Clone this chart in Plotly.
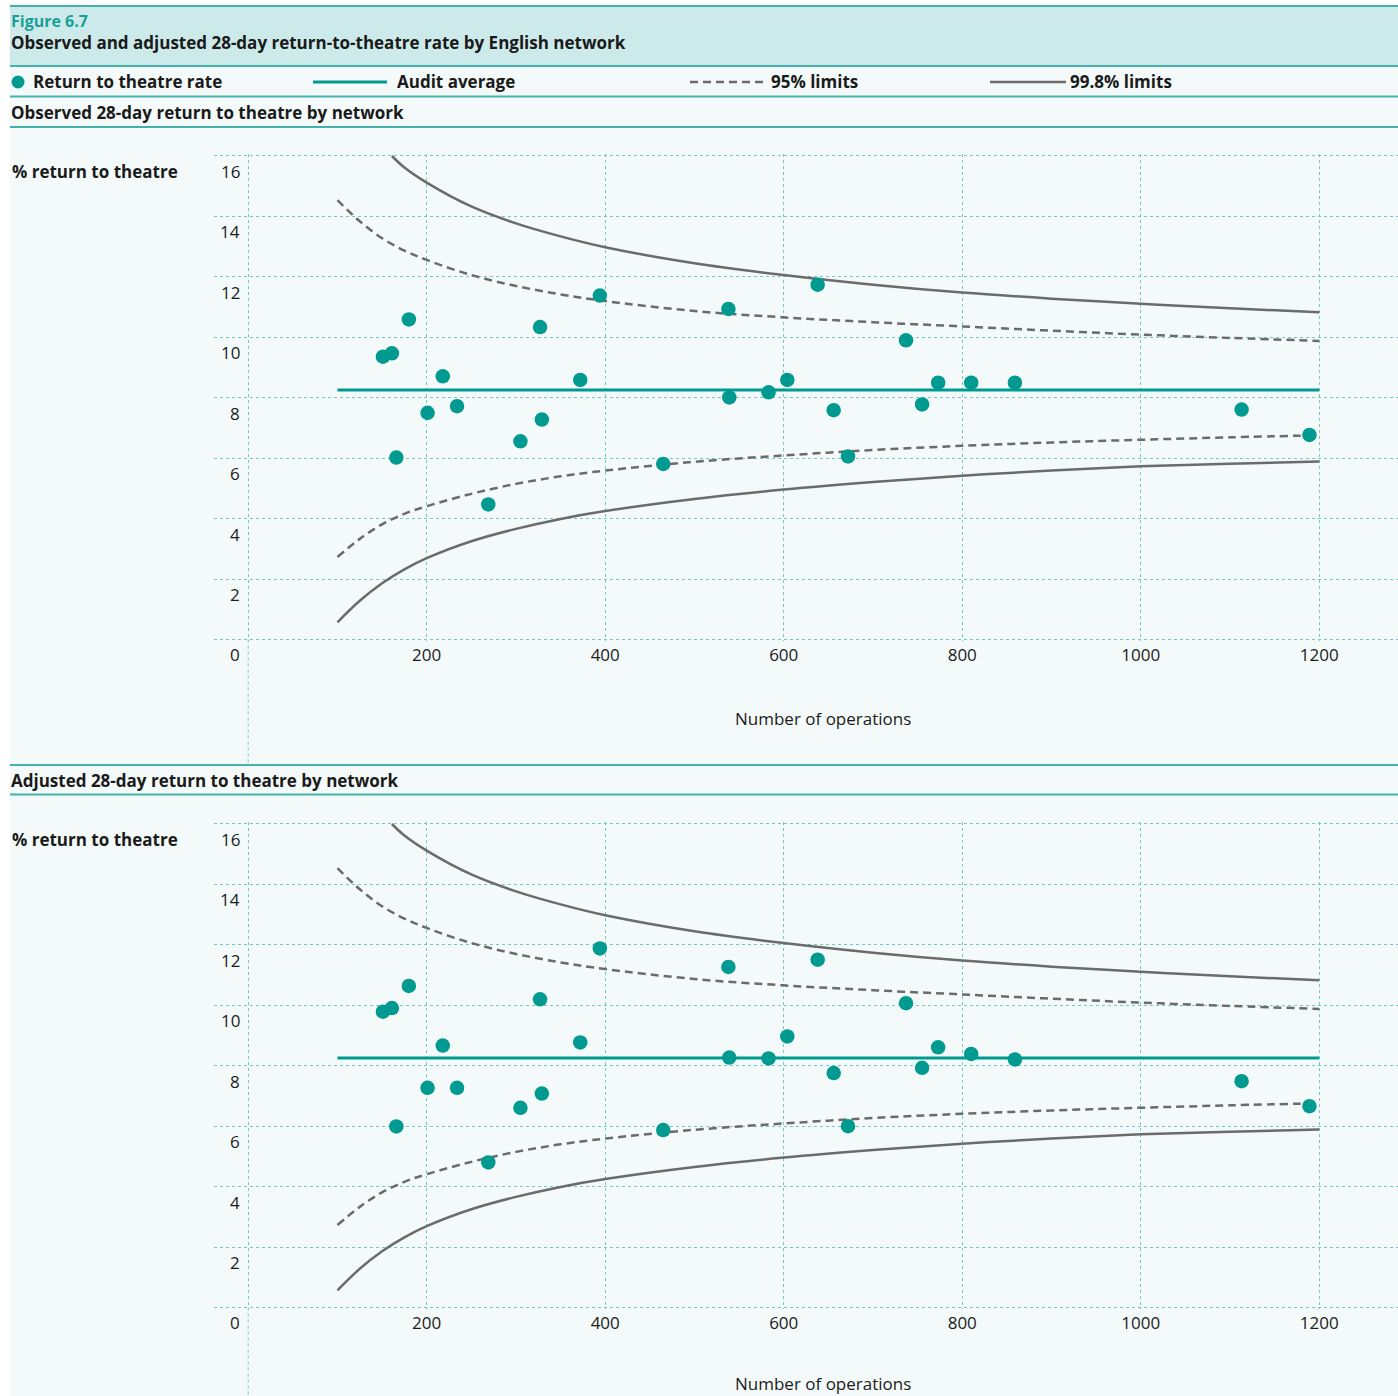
import plotly.graph_objects as go

W, H = 1398, 1396

# ---- data -------------------------------------------------------------
# Number of operations per English network
operations = [151, 161, 166, 180, 201, 218, 234, 269, 305, 327, 329, 372, 394, 465,
              538, 539, 583, 604, 638, 656, 672, 737, 755, 773, 810, 859, 1113, 1189]
# Observed 28-day return-to-theatre rate (%)
observed_rate = [9.36, 9.47, 6.02, 10.59, 7.50, 8.71, 7.72, 4.47, 6.56, 10.34, 7.28, 8.59, 11.38, 5.81,
                 10.94, 8.01, 8.18, 8.59, 11.74, 7.59, 6.06, 9.90, 7.78, 8.50, 8.50, 8.50, 7.61, 6.77]
# Risk-adjusted 28-day return-to-theatre rate (%)
adjusted_rate = [9.79, 9.91, 5.99, 10.64, 7.27, 8.67, 7.27, 4.80, 6.61, 10.20, 7.08, 8.77, 11.88, 5.87,
                 11.27, 8.27, 8.24, 8.97, 11.51, 7.76, 6.00, 10.07, 7.93, 8.61, 8.39, 8.21, 7.49, 6.66]

audit_average = 8.26
average_span = [100, 1200]

# Funnel control limits
limit_n = [100, 125, 150, 175, 200, 250, 300, 350, 400, 500, 600, 700, 800, 900, 1000, 1100, 1200]
upper_95 = [14.54, 13.84, 13.28, 12.87, 12.56, 12.06, 11.70, 11.42, 11.20, 10.87, 10.66, 10.50,
            10.36, 10.22, 10.09, 9.98, 9.88]
lower_95 = [2.73, 3.33, 3.81, 4.16, 4.41, 4.82, 5.15, 5.40, 5.59, 5.88, 6.09, 6.27,
            6.41, 6.52, 6.61, 6.69, 6.76]
lower_998 = [0.57, 1.28, 1.86, 2.32, 2.69, 3.25, 3.66, 3.99, 4.25, 4.65, 4.96, 5.21,
             5.42, 5.59, 5.73, 5.82, 5.89]
upper_998_n = [161, 175, 200, 250, 300, 350, 400, 500, 600, 700, 800, 900, 1000, 1100, 1200]
upper_998 = [16.0, 15.62, 15.12, 14.33, 13.77, 13.34, 12.98, 12.45, 12.06, 11.74, 11.48, 11.28,
             11.11, 10.96, 10.83]

y_ticks = [0, 2, 4, 6, 8, 10, 12, 14, 16]
x_ticks = [0, 200, 400, 600, 800, 1000, 1200]
x_ticktext = ["", "200", "400", "600", "800", "1000", "1200"]

# ---- styling ----------------------------------------------------------
TEAL = "#009a90"
RULE = "#43b2ac"
GRID = "#72cac5"
GREY = "#6b6b6b"
BG = "#f4fafa"
HEAD_BG = "#cdeaea"
FONT = "Open Sans"
TXT = "#1a1a1a"
FS = 17


def fx(px):
    return px / W


def fy(py):
    return 1 - py / H


X_RANGE = [-38.3, 1288.2]
Y_RANGE = [-0.06, 16.06]
PX_PER_UNIT = 30.22

panels = [
    dict(xa="x", ya="y", rates=observed_rate, top=156.0, bottom=639.5,
         title="Observed 28-day return to theatre by network", title_y=112,
         axis_title_y=718, grid_end=763),
    dict(xa="x2", ya="y2", rates=adjusted_rate, top=824.0, bottom=1307.5,
         title="Adjusted 28-day return to theatre by network", title_y=780,
         axis_title_y=1383, grid_end=1396),
]

fig = go.Figure()
shapes = []
annotations = []

# panel background and header band
shapes.append(dict(type="rect", xref="paper", yref="paper", x0=fx(10), x1=1, y0=0, y1=fy(6),
                   fillcolor=BG, line_width=0, layer="below"))
shapes.append(dict(type="rect", xref="paper", yref="paper", x0=fx(10), x1=1, y0=fy(66), y1=fy(6),
                   fillcolor=HEAD_BG, line_width=0, layer="below"))
for ry in [6, 66, 96.5, 127, 765, 794.5]:
    shapes.append(dict(type="line", xref="paper", yref="paper", x0=fx(10), x1=1, y0=fy(ry), y1=fy(ry),
                       line=dict(color=RULE, width=2), layer="below"))

annotations.append(dict(text="<b>Figure 6.7</b>", xref="paper", yref="paper", x=fx(9), y=fy(21),
                        xanchor="left", yanchor="middle", showarrow=False,
                        font=dict(family=FONT, size=16, color="#1a9f97")))
annotations.append(dict(text="<b>Observed and adjusted 28-day return-to-theatre rate by English network</b>",
                        xref="paper", yref="paper", x=fx(9), y=fy(43), xanchor="left", yanchor="middle",
                        showarrow=False, font=dict(family=FONT, size=FS, color=TXT)))

# legend row
LEG_Y = 82
shapes.append(dict(type="circle", xref="paper", yref="paper", x0=fx(11.5), x1=fx(24.5),
                   y0=fy(LEG_Y + 6.5), y1=fy(LEG_Y - 6.5), fillcolor=TEAL, line_width=0))
shapes.append(dict(type="line", xref="paper", yref="paper", x0=fx(313), x1=fx(387), y0=fy(LEG_Y), y1=fy(LEG_Y),
                   line=dict(color=TEAL, width=3)))
shapes.append(dict(type="line", xref="paper", yref="paper", x0=fx(690), x1=fx(766), y0=fy(LEG_Y), y1=fy(LEG_Y),
                   line=dict(color=GREY, width=2.5, dash="8px,5px")))
shapes.append(dict(type="line", xref="paper", yref="paper", x0=fx(990), x1=fx(1066), y0=fy(LEG_Y), y1=fy(LEG_Y),
                   line=dict(color=GREY, width=2.5)))
for lx, label in [(31, "Return to theatre rate"), (395, "Audit average"),
                  (769, "95% limits"), (1068, "99.8% limits")]:
    annotations.append(dict(text=f"<b>{label}</b>", xref="paper", yref="paper", x=fx(lx), y=fy(LEG_Y),
                            xanchor="left", yanchor="middle", showarrow=False,
                            font=dict(family=FONT, size=FS, color=TXT)))

layout_axes = {}
for p in panels:
    xa, ya = p["xa"], p["ya"]
    xkey = "xaxis" if xa == "x" else "xaxis2"
    ykey = "yaxis" if ya == "y" else "yaxis2"
    pad = (Y_RANGE[1] - 16) * PX_PER_UNIT
    layout_axes[xkey] = dict(
        domain=[fx(214), 1], range=X_RANGE, anchor=ya,
        tickvals=x_ticks, ticktext=x_ticktext, showgrid=True, gridcolor=GRID, griddash="dot",
        gridwidth=1, zeroline=False, showline=False, ticks="", ticklabelstandoff=2,
        tickfont=dict(family=FONT, size=FS, color=TXT), fixedrange=True,
    )
    layout_axes[ykey] = dict(
        domain=[fy(p["bottom"] + pad), fy(p["top"] - pad)], range=Y_RANGE, anchor=xa,
        tickvals=y_ticks, showticklabels=False, showgrid=True, gridcolor=GRID, griddash="dot",
        gridwidth=1, zeroline=False, showline=False, ticks="", fixedrange=True,
    )

    # funnel limits
    common = dict(mode="lines", xaxis=xa, yaxis=ya, showlegend=False, hoverinfo="skip")
    fig.add_trace(go.Scatter(x=limit_n, y=lower_998,
                             line=dict(color=GREY, width=2.5, shape="spline", smoothing=1.0), **common))
    fig.add_trace(go.Scatter(x=upper_998_n, y=upper_998,
                             line=dict(color=GREY, width=2.5, shape="spline", smoothing=1.0), **common))
    fig.add_trace(go.Scatter(x=limit_n, y=upper_95,
                             line=dict(color=GREY, width=2.5, dash="8px,5px", shape="spline", smoothing=1.0),
                             **common))
    fig.add_trace(go.Scatter(x=limit_n, y=lower_95,
                             line=dict(color=GREY, width=2.5, dash="8px,5px", shape="spline", smoothing=1.0),
                             **common))
    # audit average
    fig.add_trace(go.Scatter(x=average_span, y=[audit_average] * len(average_span), mode="lines",
                             line=dict(color=TEAL, width=3), xaxis=xa, yaxis=ya, showlegend=False))
    # network rates
    fig.add_trace(go.Scatter(x=operations, y=p["rates"], mode="markers",
                             marker=dict(color=TEAL, size=14.5, line=dict(width=0)),
                             xaxis=xa, yaxis=ya, showlegend=False))

    # y tick labels sit just below their gridlines
    for v in y_ticks:
        annotations.append(dict(text=str(v), xref=xa, yref=ya, x=0, y=v, xanchor="right", yanchor="middle",
                                xshift=-6, yshift=-15.5, showarrow=False,
                                font=dict(family=FONT, size=FS, color=TXT)))

    # zero gridline continues down to the section rule
    shapes.append(dict(type="line", xref=xa, yref="paper", x0=0, x1=0, y0=fy(p["bottom"]), y1=fy(p["grid_end"]),
                       line=dict(color=GRID, width=1, dash="dot"), layer="below"))

    annotations.append(dict(text=f"<b>{p['title']}</b>", xref="paper", yref="paper", x=fx(9), y=fy(p["title_y"]),
                            xanchor="left", yanchor="middle", showarrow=False,
                            font=dict(family=FONT, size=FS, color=TXT)))
    annotations.append(dict(text="<b>% return to theatre</b>", xref="paper", yref="paper", x=fx(10),
                            y=fy(p["top"] + 15.5), xanchor="left", yanchor="middle", showarrow=False,
                            font=dict(family=FONT, size=FS, color=TXT)))
    annotations.append(dict(text="Number of operations", xref="paper", yref="paper", x=fx(823),
                            y=fy(p["axis_title_y"]), xanchor="center", yanchor="middle", showarrow=False,
                            font=dict(family=FONT, size=FS, color=TXT)))

fig.update_layout(
    width=W, height=H, autosize=False,
    margin=dict(l=0, r=0, t=0, b=0, pad=0),
    paper_bgcolor="white", plot_bgcolor="rgba(0,0,0,0)",
    font=dict(family=FONT, size=FS, color=TXT),
    showlegend=False, shapes=shapes, annotations=annotations,
    **layout_axes,
)

fig.write_html("out.html")
